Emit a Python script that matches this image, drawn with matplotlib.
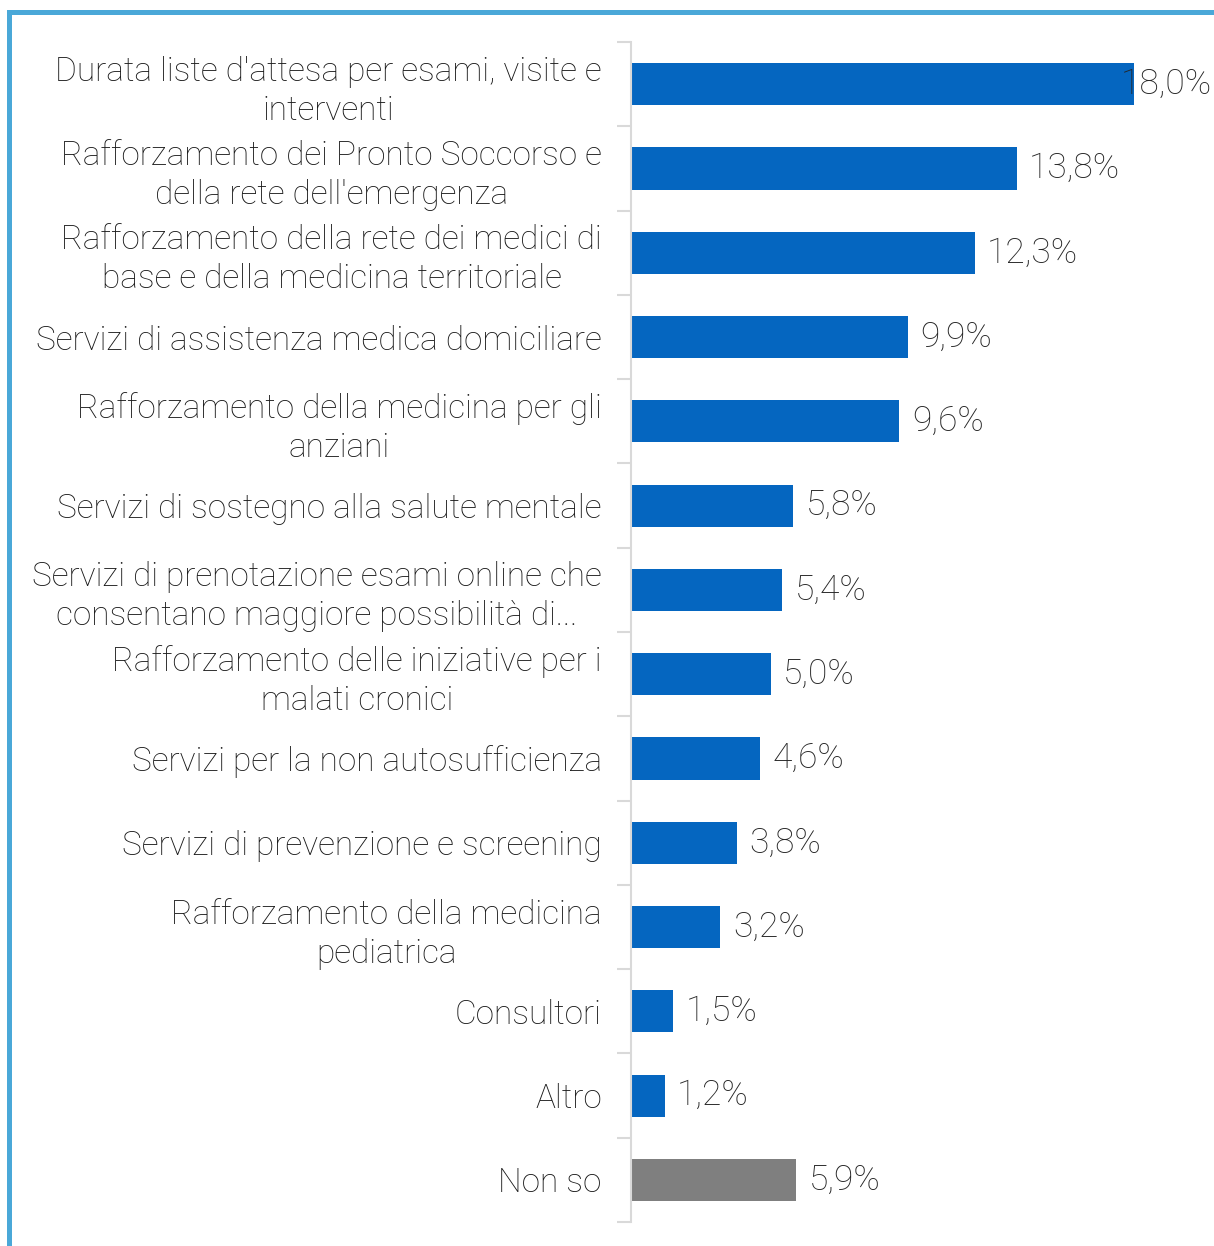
import matplotlib
matplotlib.use("Agg")
import matplotlib.pyplot as plt
from matplotlib.patches import Rectangle

categories = [
    "Durata liste d'attesa per esami, visite e\ninterventi",
    "Rafforzamento dei Pronto Soccorso e\ndella rete dell'emergenza",
    "Rafforzamento della rete dei medici di\nbase e della medicina territoriale",
    "Servizi di assistenza medica domiciliare",
    "Rafforzamento della medicina per gli\nanziani",
    "Servizi di sostegno alla salute mentale",
    "Servizi di prenotazione esami online che\nconsentano maggiore possibilità di...",
    "Rafforzamento delle iniziative per i\nmalati cronici",
    "Servizi per la non autosufficienza",
    "Servizi di prevenzione e screening",
    "Rafforzamento della medicina\npediatrica",
    "Consultori",
    "Altro",
    "Non so",
]
values = [18.0, 13.8, 12.3, 9.9, 9.6, 5.8, 5.4, 5.0, 4.6, 3.8, 3.2, 1.5, 1.2, 5.9]
colors = ["#0566c0"] * 13 + ["#7f7f7f"]

plt.rcParams["font.family"] = ["Roboto", "DejaVu Sans"]

W, H = 1214, 1246
fig = plt.figure(figsize=(W / 100, H / 100), dpi=100)
ax = fig.add_axes([631 / W, 1 - 1222 / H, (W - 631) / W, (1222 - 42) / H])

y = list(range(len(values)))
ax.barh(y, values, height=0.5, color=colors)
xmax = (W - 631) / 27.94
ax.set_xlim(0, xmax)
ax.set_ylim(len(values) - 0.5, -0.5)

for yi, v in zip(y, values):
    label = f"{v:.1f}%".replace(".", ",")
    if v > 17:
        ax.text(xmax - 0.08, yi, label, ha="right", va="center",
                fontsize=25.5, color="#262626", fontweight="light")
    else:
        ax.text(v + 0.45, yi, label, ha="left", va="center",
                fontsize=25.5, color="#262626", fontweight="light")

ax.set_yticks(y)
ax.set_yticklabels(categories, fontsize=24, color="#1a1a1a",
                   fontweight="light", multialignment="center",
                   linespacing=1.28)
ax.tick_params(axis="y", which="major", length=0, pad=21)
ax.set_yticks([i - 0.5 for i in range(len(values) + 1)], minor=True)
ax.tick_params(axis="y", which="minor", length=10, width=1.5,
               color="#d9d9d9")
ax.set_xticks([])
for s in ["top", "right", "bottom"]:
    ax.spines[s].set_visible(False)
ax.spines["left"].set_color("#d9d9d9")
ax.spines["left"].set_linewidth(1.5)

# frame lines (top and left)
fig.add_artist(Rectangle((7 / W, 0), 5 / W, 1 - 10 / H,
                         transform=fig.transFigure, color="#4aa8d8", lw=0))
fig.add_artist(Rectangle((7 / W, 1 - 15 / H), 1, 5 / H,
                         transform=fig.transFigure, color="#4aa8d8", lw=0))

fig.savefig("out.png", dpi=100)
